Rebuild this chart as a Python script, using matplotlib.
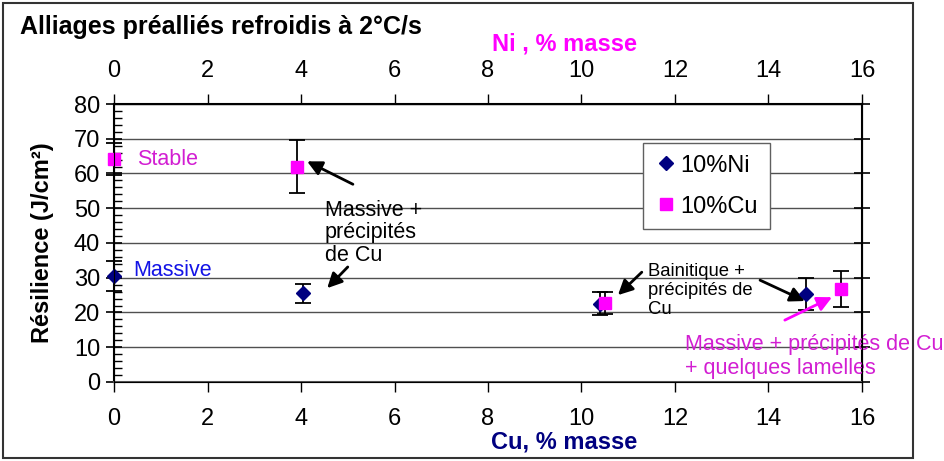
import matplotlib.pyplot as plt
from matplotlib.patches import Rectangle
from matplotlib.lines import Line2D

# Series 10%Ni : x = Cu (% masse), bottom axis
ni_x = [0.0, 4.05, 10.4, 14.8]
ni_y = [30.5, 25.5, 22.5, 25.3]
ni_err = [4.3, 2.7, 3.3, 4.7]

# Series 10%Cu : x = Ni (% masse), top axis
cu_x = [0.0, 3.92, 10.5, 15.55]
cu_y = [64.3, 62.0, 22.7, 26.8]
cu_err = [4.6, 7.5, 3.2, 5.2]

x_ticks = [0, 2, 4, 6, 8, 10, 12, 14, 16]
y_ticks = [0, 10, 20, 30, 40, 50, 60, 70, 80]

NAVY = '#000080'
MAGENTA = '#ff00ff'
PINK_TEXT = '#d21ed2'

plt.rcParams['font.family'] = ['Liberation Sans', 'DejaVu Sans']

fig = plt.figure(figsize=(9.44, 4.61), dpi=100)
ax = fig.add_axes([0.1208, 0.1714, 0.7923, 0.603])

# Outer frame
fig.patches.append(Rectangle((3 / 944, 3 / 461), 910 / 944, 455 / 461,
                             transform=fig.transFigure, fill=False,
                             edgecolor='#333333', linewidth=1.5))

ax.set_xlim(0, 16)
ax.set_ylim(0, 80)
ax.set_yticks(y_ticks)
ax.set_xticks(x_ticks)
ax.set_yticks(range(0, 81, 2), minor=True)
ax.grid(axis='y', color='#505050', linewidth=1)
ax.set_axisbelow(True)

# Series
ax.errorbar(ni_x, ni_y, yerr=ni_err, fmt='D', color=NAVY, markersize=7,
            ecolor='black', elinewidth=1.3, capsize=6, capthick=1.3,
            zorder=3, clip_on=False)
ax.errorbar(cu_x, cu_y, yerr=cu_err, fmt='s', color=MAGENTA, markersize=8,
            ecolor='black', elinewidth=1.3, capsize=6, capthick=1.3,
            zorder=3, clip_on=False)

# Ticks
ax.tick_params(axis='y', which='major', direction='inout', length=12,
               width=1.2, labelsize=17, pad=4, right=True)
ax.tick_params(axis='y', which='minor', direction='in', length=6, width=1)
ax.tick_params(axis='x', which='major', direction='out', length=7,
               width=1, labelsize=17, pad=12)
for s in ax.spines.values():
    s.set_linewidth(1.5)
ax.spines['bottom'].set_color('#555555')

axt = ax.twiny()
axt.set_xlim(0, 16)
axt.set_xticks(x_ticks)
axt.tick_params(axis='x', direction='out', length=7, width=1,
                labelsize=17, pad=9)

ax.set_ylabel('Résilience (J/cm²)', fontsize=17, fontweight='bold')
ax.yaxis.set_label_coords(-0.08, 0.5)
fig.text(564 / 944, 1 - 442 / 461, 'Cu, % masse', fontsize=17,
         fontweight='bold', color=NAVY, ha='center', va='center')
fig.text(564 / 944, 1 - 44 / 461, 'Ni , % masse', fontsize=17,
         fontweight='bold', color=MAGENTA, ha='center', va='center')

fig.text(20 / 944, 1 - 27 / 461, 'Alliages préalliés refroidis à 2°C/s',
         fontsize=18, fontweight='bold', va='center', ha='left')

# Labels and arrows
ax.text(0.49, 64.1, 'Stable', color=PINK_TEXT, fontsize=15.5, va='center')
ax.text(0.41, 32.2, 'Massive', color='#1414e6', fontsize=15.5, va='center')
ax.text(4.51, 52.5, 'Massive +\nprécipités\nde Cu', fontsize=15.5, va='top',
        linespacing=1.12)
ax.text(11.42, 34.3, 'Bainitique +\nprécipités de\nCu', fontsize=13.3,
        va='top', linespacing=1.15)
ax.text(12.21, 13.9, 'Massive + précipités de Cu\n+ quelques lamelles',
        color=PINK_TEXT, fontsize=15.5, va='top', linespacing=1.18,
        clip_on=False)

arrow = dict(arrowstyle='-|>', color='black', lw=2, mutation_scale=22,
             shrinkA=0, shrinkB=0)
ax.annotate('', xy=(4.13, 63.5), xytext=(5.11, 56.9), arrowprops=arrow)
ax.annotate('', xy=(4.56, 27.0), xytext=(5.0, 33.1), arrowprops=arrow)
ax.annotate('', xy=(10.78, 25.0), xytext=(11.29, 31.6), arrowprops=arrow)
ax.annotate('', xy=(14.78, 23.3), xytext=(13.82, 29.3), arrowprops=arrow)
ax.annotate('', xy=(15.36, 24.4), xytext=(14.35, 17.8),
            arrowprops=dict(arrow, color=MAGENTA))

handles = [
    Line2D([], [], linestyle='none', marker='D', markersize=7, color=NAVY),
    Line2D([], [], linestyle='none', marker='s', markersize=8, color=MAGENTA),
]
leg = ax.legend(handles, ['10%Ni', '10%Cu'], loc='upper left',
                bbox_to_anchor=(0.707, 0.86), fontsize=17,
                frameon=True, fancybox=False, edgecolor='#606060',
                handletextpad=0.1, handlelength=1.0, borderpad=0.5,
                borderaxespad=0, labelspacing=0.8, framealpha=1)
leg.get_frame().set_linewidth(1)

fig.savefig('out.png', dpi=100)
